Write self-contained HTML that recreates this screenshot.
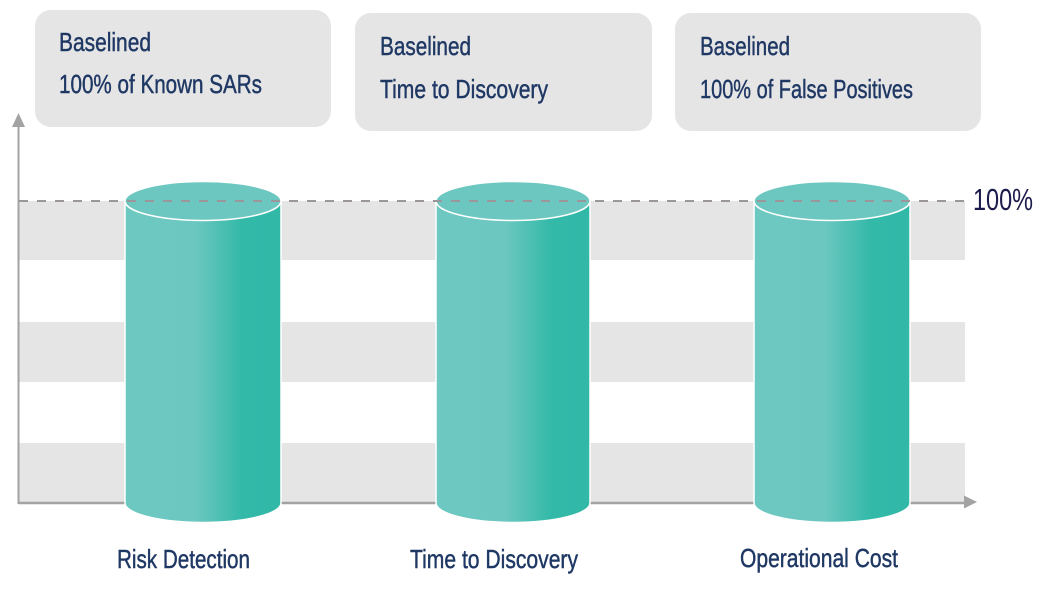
<!DOCTYPE html>
<html>
<head>
<meta charset="utf-8">
<style>
html,body{margin:0;padding:0;background:#fff;}
svg{display:block;}
text{font-family:"Liberation Sans",sans-serif;}
</style>
</head>
<body>
<svg width="1046" height="594" viewBox="0 0 1046 594" xmlns="http://www.w3.org/2000/svg">
<defs>
<linearGradient id="cg" x1="0" y1="0" x2="1" y2="0">
<stop offset="0" stop-color="#6cc8c1"/>
<stop offset="0.45" stop-color="#6cc7c0"/>
<stop offset="0.75" stop-color="#33b9a8"/>
<stop offset="1" stop-color="#31b8a7"/>
</linearGradient>
</defs>
<!-- bands -->
<rect x="19" y="201" width="946" height="59" fill="#e6e5e6"/>
<rect x="19" y="322" width="946" height="60" fill="#e6e5e6"/>
<rect x="19" y="443" width="946" height="60" fill="#e6e5e6"/>
<!-- axes -->
<line x1="18.5" y1="504" x2="18.5" y2="126" stroke="#a3a3a3" stroke-width="2"/>
<polygon points="18.5,113 12,127 25,127" fill="#a3a3a3"/>
<line x1="18" y1="503" x2="965" y2="503" stroke="#a3a3a3" stroke-width="2.5"/>
<polygon points="977,502 964,495.5 964,508.5" fill="#a3a3a3"/>
<!-- boxes -->
<rect x="35" y="10" width="296" height="117" rx="16" fill="#e6e5e6"/>
<rect x="355" y="13" width="297" height="118" rx="16" fill="#e6e5e6"/>
<rect x="675" y="13" width="306" height="118" rx="16" fill="#e6e5e6"/>
<g fill="#1f3864" stroke="#1f3864" stroke-width="0.45" font-size="26">
<text x="59" y="51" textLength="92" lengthAdjust="spacingAndGlyphs">Baselined</text>
<text x="59" y="93" textLength="203" lengthAdjust="spacingAndGlyphs">100% of Known SARs</text>
<text x="380" y="55" textLength="91" lengthAdjust="spacingAndGlyphs">Baselined</text>
<text x="380" y="98" textLength="168" lengthAdjust="spacingAndGlyphs">Time to Discovery</text>
<text x="700" y="55" textLength="90" lengthAdjust="spacingAndGlyphs">Baselined</text>
<text x="700" y="98" textLength="213" lengthAdjust="spacingAndGlyphs">100% of False Positives</text>
<text x="117" y="568" textLength="133" lengthAdjust="spacingAndGlyphs">Risk Detection</text>
<text x="410" y="568" textLength="168" lengthAdjust="spacingAndGlyphs">Time to Discovery</text>
<text x="740" y="567" textLength="158" lengthAdjust="spacingAndGlyphs">Operational Cost</text>
</g>
<text x="973" y="210" font-size="31" fill="#1c1c4c" textLength="60" lengthAdjust="spacingAndGlyphs">100%</text>
<!-- cylinders -->
<g stroke="#ffffff" stroke-width="1.5">
<path d="M125,201 L125,503 A78,19.5 0 0 0 281,503 L281,201 Z" fill="url(#cg)"/>
<ellipse cx="203" cy="201" rx="78" ry="19.5" fill="#6cc7c0"/>
<path d="M436,201 L436,503 A77,19.5 0 0 0 590,503 L590,201 Z" fill="url(#cg)"/>
<ellipse cx="513" cy="201" rx="77" ry="19.5" fill="#6cc7c0"/>
<path d="M754,201 L754,503 A78,19.5 0 0 0 910,503 L910,201 Z" fill="url(#cg)"/>
<ellipse cx="832" cy="201" rx="78" ry="19.5" fill="#6cc7c0"/>
</g>
<!-- dashed 100% line -->
<line x1="19" y1="201" x2="965" y2="201" stroke="#9a9699" stroke-width="2" stroke-dasharray="9,9"/>
</svg>
</body>
</html>
